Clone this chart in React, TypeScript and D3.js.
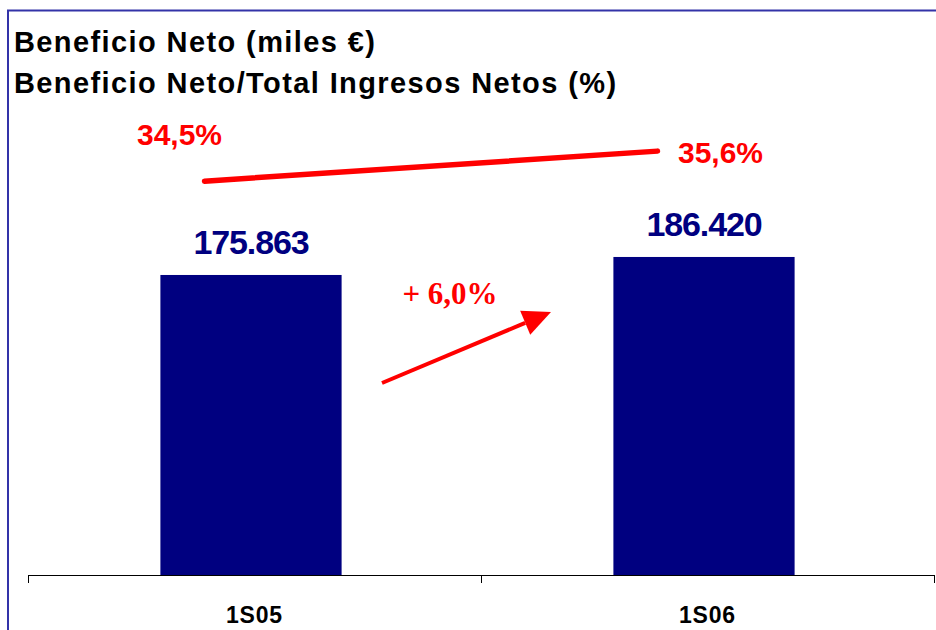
import * as d3 from "d3";

// Datos del gráfico
const categorias = ["1S05", "1S06"];
const beneficioNeto = [175863, 186420];
const margenPct = [34.5, 35.6];
const etiquetasBeneficio = ["175.863", "186.420"];
const etiquetasPct = ["34,5%", "35,6%"];
const etiquetaCrecimiento = "+ 6,0%";
const titulos = [
  "Beneficio Neto (miles €)",
  "Beneficio Neto/Total Ingresos Netos (%)",
];

const width = 936;
const height = 630;
const axisY = 575;

export default function App() {
  const x = d3.scaleBand<string>().domain(categorias).range([28, 934]).padding(0);
  const bw = x.bandwidth();
  const barW = bw * 0.4;
  const barShift = -3.5; // las barras van un poco a la izquierda del centro

  const y = d3.scaleLinear().domain([0, 200000]).range([axisY, axisY - 341.2]);
  const yPct = d3.scaleLinear().domain([30, 40]).range([304, 31]);

  const lineX = (i: number) => (x(categorias[i]) ?? 0) + bw / 2 - 50;
  const linea = d3
    .line<number>()
    .x((_, i) => lineX(i))
    .y((d) => yPct(d));

  // Flecha de crecimiento entre las dos barras
  const arrow = { x1: 382, y1: 383, x2: 551, y2: 312 };
  const ang = Math.atan2(arrow.y2 - arrow.y1, arrow.x2 - arrow.x1);
  const headLen = 28;
  const headW = 13;
  const bx = arrow.x2 - headLen * Math.cos(ang);
  const by = arrow.y2 - headLen * Math.sin(ang);
  const px = -Math.sin(ang) * headW;
  const py = Math.cos(ang) * headW;

  const font = "Arial, 'Liberation Sans', sans-serif";

  return (
    <svg
      width={width}
      height={height}
      style={{ position: "absolute", left: 0, top: 0, background: "#fff" }}
    >
      {/* Marco */}
      <rect x={8} y={10.5} width={940} height={640} fill="none" stroke="#3333a8" strokeWidth={2} />

      {/* Títulos */}
      {titulos.map((t, i) => (
        <text
          key={t}
          x={14}
          y={52 + i * 41}
          fontFamily={font}
          fontWeight="bold"
          fontSize={29}
          letterSpacing={1.4}
          fill="#000"
        >
          {t}
        </text>
      ))}

      {/* Barras */}
      {categorias.map((c, i) => {
        const bx0 = (x(c) ?? 0) + (bw - barW) / 2 + barShift;
        return (
          <g key={c}>
            <rect
              x={bx0}
              y={y(beneficioNeto[i])}
              width={barW}
              height={axisY - y(beneficioNeto[i])}
              fill="#000080"
            />
            <text
              x={bx0 + barW / 2}
              y={y(beneficioNeto[i]) - 21}
              textAnchor="middle"
              fontFamily={font}
              fontWeight="bold"
              fontSize={34}
              letterSpacing={-1.1}
              fill="#000080"
            >
              {etiquetasBeneficio[i]}
            </text>
          </g>
        );
      })}

      {/* Eje X */}
      <line x1={28} x2={934} y1={axisY + 0.5} y2={axisY + 0.5} stroke="#000" strokeWidth={1} />
      {[...categorias.map((c) => x(c) ?? 0), 934].map((t, i) => (
        <line key={i} x1={t + 0.5} x2={t + 0.5} y1={axisY} y2={axisY + 8} stroke="#000" />
      ))}
      {categorias.map((c) => (
        <text
          key={c}
          x={(x(c) ?? 0) + bw / 2}
          y={623}
          textAnchor="middle"
          fontFamily={font}
          fontWeight="bold"
          fontSize={23}
          letterSpacing={0.8}
          fill="#000"
        >
          {c}
        </text>
      ))}

      {/* Línea de margen */}
      <path
        d={linea(margenPct) ?? ""}
        fill="none"
        stroke="#ff0000"
        strokeWidth={5.5}
        strokeLinecap="round"
      />
      <text
        x={lineX(0) - 25}
        y={yPct(margenPct[0]) - 36}
        textAnchor="middle"
        fontFamily={font}
        fontWeight="bold"
        fontSize={30}
        fill="#ff0000"
      >
        {etiquetasPct[0]}
      </text>
      <text
        x={lineX(1) + 63}
        y={yPct(margenPct[1]) + 12}
        textAnchor="middle"
        fontFamily={font}
        fontWeight="bold"
        fontSize={30}
        fill="#ff0000"
      >
        {etiquetasPct[1]}
      </text>

      {/* Crecimiento */}
      <text
        x={450}
        y={304}
        textAnchor="middle"
        fontFamily="'Times New Roman', 'Liberation Serif', serif"
        fontWeight="bold"
        fontSize={31}
        fill="#ff0000"
      >
        {etiquetaCrecimiento}
      </text>
      <line x1={arrow.x1} y1={arrow.y1} x2={bx} y2={by} stroke="#ff0000" strokeWidth={4} />
      <polygon
        points={`${arrow.x2},${arrow.y2} ${bx + px},${by + py} ${bx - px},${by - py}`}
        fill="#ff0000"
      />
    </svg>
  );
}
